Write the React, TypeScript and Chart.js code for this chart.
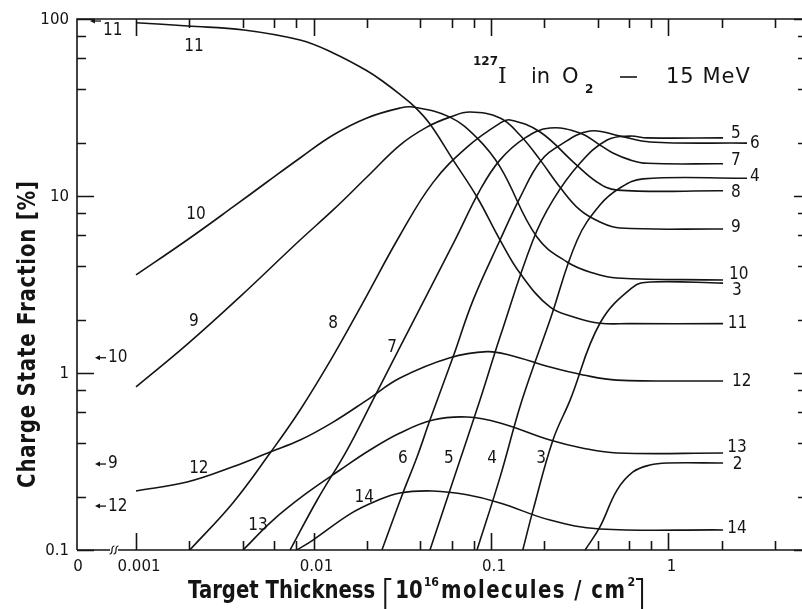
import React, { useEffect, useRef } from 'react';
import { Chart, registerables } from 'chart.js';
Chart.register(...registerables);

// ---- Charge state fractions (%) vs target thickness (10^16 molecules/cm^2) ----
const q2Thickness = [0.339, 0.411, 0.513, 0.631, 0.787, 0.982, 2.03];
const q2Fraction = [0.1, 0.135, 0.218, 0.276, 0.302, 0.31, 0.31];
const q3Thickness = [0.151, 0.1726, 0.2234, 0.279, 0.411, 0.631, 0.787, 2.03];
const q3Fraction = [0.1, 0.168, 0.418, 0.703, 1.91, 3.06, 3.27, 3.22];
const q4Thickness = [0.0834, 0.1125, 0.1496, 0.215, 0.306, 0.411, 0.533, 0.718, 2.77];
const q4Fraction = [0.1, 0.258, 0.703, 1.99, 5.64, 8.9, 11.1, 12.5, 12.6];
const q5Thickness = [0.0453, 0.0627, 0.0867, 0.1125, 0.1726, 0.2234, 0.317, 0.451, 0.607, 0.757, 2.03];
const q5Fraction = [0.1, 0.265, 0.703, 1.6, 5.64, 9.48, 15.3, 20.7, 21.8, 21.3, 21.3];
const q6Thickness = [0.0243, 0.0319, 0.0383, 0.0453, 0.0611, 0.0793, 0.1125, 0.1455, 0.189, 0.245, 0.361, 0.533, 0.787, 2.77];
const q6Fraction = [0.1, 0.21, 0.335, 0.542, 1.23, 2.58, 5.64, 9.75, 15.6, 19.4, 23.3, 21.8, 20.2, 19.9];
const q7Thickness = [0.00738, 0.01047, 0.01545, 0.0216, 0.0307, 0.0627, 0.0867, 0.1125, 0.1556, 0.215, 0.317, 0.411, 0.486, 0.607, 0.757, 2.03];
const q7Fraction = [0.1, 0.191, 0.367, 0.703, 1.4, 5.64, 10.8, 16.0, 21.3, 24.2, 22.7, 19.4, 17.5, 16.0, 15.3, 15.2];
const q8Thickness = [0.00201, 0.00351, 0.00569, 0.0084, 0.0129, 0.019, 0.0307, 0.0471, 0.0733, 0.1125, 0.128, 0.189, 0.29, 0.395, 0.513, 2.03];
const q8Fraction = [0.1, 0.1845, 0.353, 0.618, 1.25, 2.5, 6.0, 11.9, 18.9, 25.8, 26.9, 23.0, 15.6, 12.0, 10.8, 10.7];
const q9Thickness = [0.001, 0.00194, 0.00386, 0.0084, 0.0129, 0.02, 0.0307, 0.0435, 0.0587, 0.0762, 0.1125, 0.1455, 0.189, 0.245, 0.317, 0.411, 0.533, 2.03];
const q9Fraction = [0.834, 1.45, 2.7, 5.64, 8.34, 12.8, 19.4, 24.5, 27.9, 29.8, 27.6, 22.1, 16.0, 11.2, 8.34, 7.13, 6.59, 6.51];
const q10Thickness = [0.001, 0.00194, 0.00352, 0.00547, 0.0084, 0.0129, 0.02, 0.0307, 0.0364, 0.0587, 0.0834, 0.1125, 0.1815, 0.268, 0.376, 0.513, 2.03];
const q10Fraction = [3.58, 5.64, 8.67, 12.0, 16.4, 22.1, 27.6, 31.4, 31.8, 27.9, 21.3, 14.6, 5.86, 4.24, 3.67, 3.44, 3.35];
const q11Thickness = [0.001, 0.00196, 0.00406, 0.0084, 0.0129, 0.02, 0.0253, 0.0307, 0.0373, 0.0453, 0.0611, 0.0834, 0.1125, 0.1455, 0.2147, 0.298, 0.411, 0.6, 2.03];
const q11Fraction = [95.3, 91.3, 86.7, 76, 64.3, 51, 43.5, 37.5, 31.8, 25.5, 16, 9.87, 5.64, 3.67, 2.36, 2.06, 1.91, 1.9, 1.9];
const q12Thickness = [0.001, 0.00194, 0.00351, 0.00569, 0.0084, 0.0129, 0.02, 0.0307, 0.0587, 0.0948, 0.128, 0.215, 0.33, 0.513, 2.03];
const q12Fraction = [0.2155, 0.242, 0.295, 0.358, 0.418, 0.528, 0.703, 0.937, 1.22, 1.32, 1.26, 1.08, 0.975, 0.912, 0.901];
const q13Thickness = [0.00401, 0.00592, 0.00918, 0.0141, 0.0208, 0.0307, 0.0471, 0.0733, 0.1125, 0.215, 0.33, 0.513, 2.03];
const q13Fraction = [0.1, 0.1476, 0.21, 0.283, 0.367, 0.458, 0.542, 0.564, 0.522, 0.418, 0.376, 0.353, 0.353];
const q14Thickness = [0.00807, 0.00993, 0.0161, 0.0222, 0.0307, 0.0471, 0.0733, 0.1125, 0.215, 0.411, 2.03];
const q14Fraction = [0.1, 0.1138, 0.16, 0.188, 0.21, 0.2155, 0.205, 0.1845, 0.1476, 0.1315, 0.1298];

// ---- Curve labels ----
const endLabelText = ['5', '6', '7', '4', '8', '9', '10', '3', '11', '12', '13', '2', '14'];
const endLabelX = [2.4, 3.07, 2.4, 3.07, 2.4, 2.4, 2.49, 2.43, 2.45, 2.59, 2.43, 2.45, 2.43];
const endLabelY = [22.4, 19.7, 15.8, 12.8, 10.5, 6.59, 3.58, 2.94, 1.91, 0.889, 0.377, 0.302, 0.133];
const innerLabelText = ['11', '10', '9', '8', '7', '12', '13', '14', '6', '5', '4', '3'];
const innerLabelX = [0.00212, 0.00218, 0.00212, 0.0129, 0.0277, 0.00226, 0.00486, 0.0193, 0.0319, 0.0579, 0.1014, 0.1914];
const innerLabelY = [69.5, 7.82, 1.94, 1.91, 1.4, 0.287, 0.138, 0.197, 0.327, 0.327, 0.327, 0.327];

// ---- Fractions at zero thickness (arrows at the "0" position) ----
const zeroCharge = ['11', '10', '9', '12'];
const zeroFraction = [97.4, 1.22, 0.306, 0.177];

// ---- Axes ----
const xMin = 0.000465;
const xMax = 5.58;
const yMin = 0.1;
const yMax = 100;
const xMajorTicks = [0.001, 0.01, 0.1, 1];
const xMajorLabels = ['0.001', '0.01', '0.1', '1'];
const xMinorTicks = [0.002, 0.004, 0.006, 0.008, 0.02, 0.04, 0.06, 0.08, 0.2, 0.4, 0.6, 0.8, 2, 4];
const yMajorTicks = [0.1, 1, 10, 100];
const yMajorLabels = ['0.1', '1', '10', '100'];
const yMinorTicks = [0.2, 0.4, 0.6, 0.8, 2, 4, 6, 8, 20, 40, 60, 80];

const INK = '#141414';
const SANS = '"DejaVu Sans", "Liberation Sans", sans-serif';

const seriesList = [
  { q: '2', x: q2Thickness, y: q2Fraction },
  { q: '3', x: q3Thickness, y: q3Fraction },
  { q: '4', x: q4Thickness, y: q4Fraction },
  { q: '5', x: q5Thickness, y: q5Fraction },
  { q: '6', x: q6Thickness, y: q6Fraction },
  { q: '7', x: q7Thickness, y: q7Fraction },
  { q: '8', x: q8Thickness, y: q8Fraction },
  { q: '9', x: q9Thickness, y: q9Fraction },
  { q: '10', x: q10Thickness, y: q10Fraction },
  { q: '11', x: q11Thickness, y: q11Fraction },
  { q: '12', x: q12Thickness, y: q12Fraction },
  { q: '13', x: q13Thickness, y: q13Fraction },
  { q: '14', x: q14Thickness, y: q14Fraction },
];

function txt(ctx: CanvasRenderingContext2D, s: string, x: number, y: number, font: string, o: any = {}) {
  ctx.save();
  ctx.translate(x, y);
  if (o.rotate) ctx.rotate(o.rotate);
  ctx.scale(o.sx || 1, 1);
  ctx.font = font;
  (ctx as any).letterSpacing = (o.spacing || 0) + 'px';
  ctx.textAlign = o.align || 'left';
  ctx.textBaseline = o.baseline || 'alphabetic';
  ctx.fillStyle = INK;
  ctx.fillText(s, 0, 0);
  const w = ctx.measureText(s).width * (o.sx || 1);
  ctx.restore();
  return w;
}

const paperPlugin = {
  id: 'paperAxes',
  afterDraw(chart: any) {
    const { ctx, chartArea: a } = chart;
    const xs = chart.scales.x;
    const ys = chart.scales.y;
    ctx.save();
    ctx.strokeStyle = INK;
    ctx.fillStyle = INK;
    ctx.lineWidth = 1.6;
    ctx.lineCap = 'butt';
    // frame
    ctx.beginPath();
    ctx.moveTo(a.left, a.bottom);
    ctx.lineTo(a.left, a.top);
    ctx.lineTo(a.right + 1, a.top);
    ctx.moveTo(a.left, a.bottom);
    ctx.lineTo(a.left + 33, a.bottom);
    ctx.moveTo(a.left + 41, a.bottom);
    ctx.lineTo(a.right + 1, a.bottom);
    ctx.stroke();
    // axis break marks
    ctx.lineWidth = 1.2;
    for (const cx of [a.left + 35, a.left + 39]) {
      ctx.beginPath();
      ctx.moveTo(cx - 2.5, a.bottom + 4);
      ctx.bezierCurveTo(cx + 2.5, a.bottom + 4, cx - 2.5, a.bottom - 4, cx + 2.5, a.bottom - 4);
      ctx.stroke();
    }
    // ticks
    ctx.lineWidth = 1.6;
    ctx.beginPath();
    const vtick = (v: number, len: number) => {
      const px = Math.round(xs.getPixelForValue(v)) + 0.5;
      ctx.moveTo(px, a.top);
      ctx.lineTo(px, a.top + len);
      ctx.moveTo(px, a.bottom);
      ctx.lineTo(px, a.bottom - len);
    };
    xMajorTicks.forEach((v) => vtick(v, 17));
    xMinorTicks.forEach((v) => vtick(v, 9));
    const htick = (v: number, len: number, rlen: number) => {
      const py = Math.round(ys.getPixelForValue(v)) + 0.5;
      ctx.moveTo(a.left, py);
      ctx.lineTo(a.left + len, py);
      ctx.moveTo(a.right + 1, py);
      ctx.lineTo(a.right + 1 - rlen, py);
    };
    yMajorTicks.forEach((v) => htick(v, 17, 8));
    yMinorTicks.forEach((v) => htick(v, 9, 4));
    ctx.stroke();

    // tick labels
    const tf = `15px ${SANS}`;
    xMajorTicks.forEach((v, i) =>
      txt(ctx, xMajorLabels[i], xs.getPixelForValue(v) + 3, a.bottom + 17, tf, { align: 'center', baseline: 'middle' })
    );
    txt(ctx, '0', a.left + 1, a.bottom + 17, tf, { align: 'center', baseline: 'middle' });
    yMajorTicks.forEach((v, i) =>
      txt(ctx, yMajorLabels[i], a.left - 8, ys.getPixelForValue(v) + 1, tf, { align: 'right', baseline: 'middle' })
    );

    // curve labels
    const lf = `17px ${SANS}`;
    endLabelText.forEach((s, i) =>
      txt(ctx, s, xs.getPixelForValue(endLabelX[i]), ys.getPixelForValue(endLabelY[i]), lf, { align: 'center', baseline: 'middle', sx: 0.9 })
    );
    innerLabelText.forEach((s, i) =>
      txt(ctx, s, xs.getPixelForValue(innerLabelX[i]), ys.getPixelForValue(innerLabelY[i]), lf, { align: 'center', baseline: 'middle', sx: 0.9 })
    );

    // zero-thickness arrows
    ctx.lineWidth = 1.3;
    zeroCharge.forEach((s, i) => {
      const py = ys.getPixelForValue(zeroFraction[i]);
      const tip = a.left + (i === 0 ? 13 : 18);
      ctx.beginPath();
      ctx.moveTo(tip + 3, py);
      ctx.lineTo(tip + 11, py);
      ctx.stroke();
      ctx.beginPath();
      ctx.moveTo(tip, py);
      ctx.lineTo(tip + 5, py - 2.5);
      ctx.lineTo(tip + 5, py + 2.5);
      ctx.closePath();
      ctx.fill();
      txt(ctx, s, tip + 13, py + (i === 0 ? 10 : 0), lf, { baseline: 'middle', sx: 0.9 });
    });

    // title: 127I in O2 - 15 MeV
    txt(ctx, '127', 473, 65, `bold 12px ${SANS}`);
    txt(ctx, 'I', 498, 83, `22px "DejaVu Serif", serif`);
    txt(ctx, 'in', 531, 83, `21px ${SANS}`);
    txt(ctx, 'O', 562, 83, `21px ${SANS}`);
    txt(ctx, '2', 585, 93, `bold 12px ${SANS}`);
    ctx.lineWidth = 1.6;
    ctx.beginPath();
    ctx.moveTo(620, 77);
    ctx.lineTo(637, 77);
    ctx.stroke();
    txt(ctx, '15 MeV', 666, 83, `21px ${SANS}`, { spacing: 1 });

    // y axis title
    txt(ctx, 'Charge State Fraction [%]', 29, 334, `bold 24px ${SANS}`, {
      rotate: -Math.PI / 2, sx: 0.82, align: 'center', baseline: 'middle', spacing: 1,
    });

    // x axis title
    const tb = 598;
    let cx = 188;
    cx += txt(ctx, 'Target Thickness', cx, tb, `bold 24px ${SANS}`, { sx: 0.82 });
    cx += 10;
    ctx.lineWidth = 2;
    ctx.beginPath();
    ctx.moveTo(cx + 6, 579);
    ctx.lineTo(cx, 579);
    ctx.lineTo(cx, 611);
    ctx.lineTo(cx + 6, 611);
    ctx.stroke();
    cx += 10;
    cx += txt(ctx, '10', cx, tb, `bold 24px ${SANS}`, { sx: 0.82 });
    cx += 1;
    cx += txt(ctx, '16', cx, 586, `bold 13px ${SANS}`, { sx: 0.85 });
    cx += 2;
    cx += txt(ctx, 'molecules / cm', cx, tb, `bold 24px ${SANS}`, { sx: 0.82, spacing: 1.8 });
    cx += 1;
    cx += txt(ctx, '2', cx, 586, `bold 13px ${SANS}`, { sx: 0.85 });
    cx += 7;
    ctx.beginPath();
    ctx.moveTo(cx - 6, 579);
    ctx.lineTo(cx, 579);
    ctx.lineTo(cx, 611);
    ctx.lineTo(cx - 6, 611);
    ctx.stroke();

    ctx.restore();
  },
};

export default function App() {
  const ref = useRef<HTMLCanvasElement | null>(null);
  useEffect(() => {
    if (!ref.current) return;
    const chart = new Chart(ref.current, {
      type: 'line',
      data: {
        datasets: seriesList.map((s) => ({
          label: s.q,
          data: s.x.map((v, i) => ({ x: v, y: s.y[i] })),
          borderColor: INK,
          borderWidth: 1.6,
          pointRadius: 0,
          fill: false,
          tension: 0.4,
        })),
      },
      options: {
        responsive: false,
        maintainAspectRatio: false,
        animation: false,
        events: [],
        layout: { padding: { left: 77, top: 19, right: 1, bottom: 59 } },
        plugins: { legend: { display: false }, tooltip: { enabled: false } },
        scales: {
          x: { type: 'logarithmic', display: false, min: xMin, max: xMax },
          y: { type: 'logarithmic', display: false, min: yMin, max: yMax },
        },
      },
      plugins: [paperPlugin],
    });
    return () => chart.destroy();
  }, []);
  return (
    <div style={{ position: 'fixed', left: 0, top: 0, width: 802, height: 609, background: '#fff' }}>
      <canvas ref={ref} width={802} height={609} style={{ display: 'block' }} />
    </div>
  );
}
